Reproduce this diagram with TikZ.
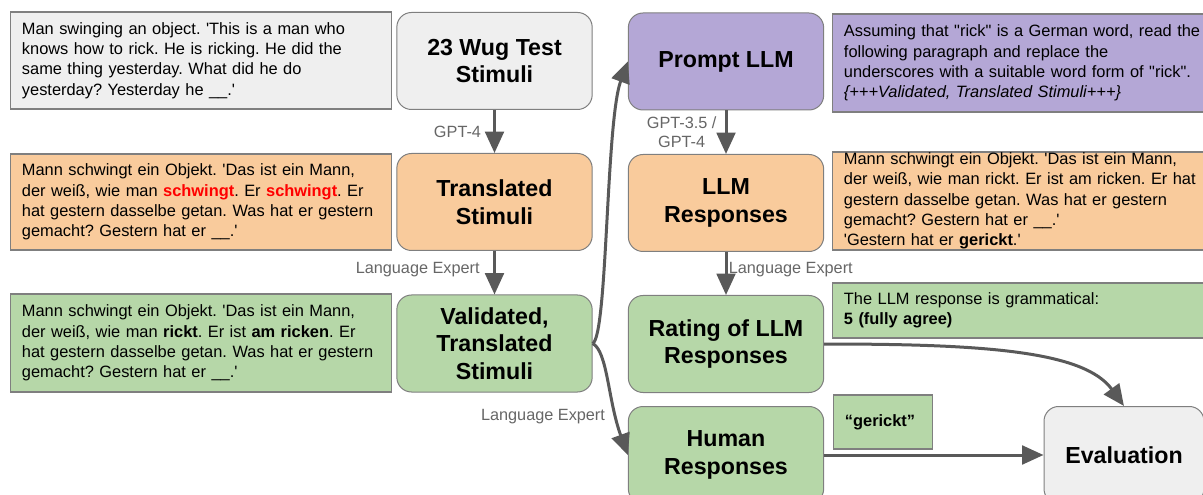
\documentclass[tikz,border=0pt]{standalone}
\usepackage{fontspec}
\setmainfont{Liberation Sans}
\usetikzlibrary{arrows.meta}
\definecolor{boxgray}{HTML}{EFEFEF}
\definecolor{boxorange}{HTML}{F9CB9C}
\definecolor{boxgreen}{HTML}{B6D7A8}
\definecolor{boxpurple}{HTML}{B4A7D6}
\definecolor{edgegray}{HTML}{7F7F7F}
\definecolor{arrowgray}{HTML}{595959}
\definecolor{labelgray}{HTML}{666666}
\definecolor{hired}{HTML}{FF0000}
\newcommand{\apos}{\textquotesingle}
\newcommand{\dq}{\textquotedbl}
\frenchspacing

\tikzset{
  textbox/.style={draw=edgegray, line width=0.9pt, anchor=west, align=left,
    inner xsep=8.5pt, inner ysep=0pt, font=\fontsize{12.3}{15.2}\selectfont},
  stagebox/.style={draw=edgegray, line width=0.75pt, rounded corners=11pt,
    minimum width=146.5pt, minimum height=72.75pt, align=center, inner sep=0pt,
    font=\fontsize{17.4}{20.8}\selectfont\bfseries},
  flow/.style={draw=arrowgray, line width=2.25pt, -{Triangle[length=16pt, width=14pt]}},
  lbl/.style={text=labelgray, inner sep=0pt, align=center, font=\fontsize{12.2}{14.5}\selectfont}
}

\begin{document}
\begin{tikzpicture}[x=0.75pt, y=-0.75pt]

  \useasboundingbox (0, 0) rectangle (1203, 495);
  \clip (0, 0) rectangle (1203, 495);

  % example texts on the left
  \node[textbox, fill=boxgray, text width=268.5pt, minimum height=72.75pt] (stimtext) at (10, 60.5)
    {Man swinging an object. \apos This is a man who\\knows how to rick. He is ricking. He did the\\same thing yesterday. What did he do\\yesterday? Yesterday he \_\_.\apos};
  \node[textbox, fill=boxorange, text width=268.5pt, minimum height=72pt] (transtext) at (10, 202)
    {Mann schwingt ein Objekt. \apos Das ist ein Mann,\\der weiß, wie man \textcolor{hired}{\bfseries schwingt}. Er \textcolor{hired}{\bfseries schwingt}. Er\\hat gestern dasselbe getan. Was hat er gestern\\gemacht? Gestern hat er \_\_.\apos};
  \node[textbox, fill=boxgreen, text width=268.5pt, minimum height=73.5pt] (validtext) at (10, 343)
    {Mann schwingt ein Objekt. \apos Das ist ein Mann,\\der weiß, wie man \textbf{rickt}. Er ist \textbf{am ricken}. Er\\hat gestern dasselbe getan. Was hat er gestern\\gemacht? Gestern hat er \_\_.\apos};

  % stages
  \node[stagebox, fill=boxgray] (wug) at (494.5, 61) {23 Wug Test\\Stimuli};
  \node[stagebox, fill=boxorange] (trans) at (494.5, 202) {Translated\\Stimuli};
  \node[stagebox, fill=boxgreen] (valid) at (494.5, 343.5) {Validated,\\Translated\\Stimuli};
  \node[stagebox, fill=boxpurple] (prompt) at (726, 61.5) {Prompt LLM};
  \node[stagebox, fill=boxorange] (llm) at (726, 203) {LLM\\Responses};
  \node[stagebox, fill=boxgreen] (rating) at (726, 344) {Rating of LLM\\Responses};
  \node[stagebox, fill=boxgreen] (human) at (726, 455) {Human\\Responses};
  \node[stagebox, fill=boxgray, minimum width=120pt] (eval) at (1124, 455) {Evaluation};

  % example texts on the right
  \node[textbox, fill=boxpurple, text width=290pt, minimum height=73.5pt] (prompttext) at (832, 63)
    {Assuming that \dq rick\dq{} is a German word, read the\\following paragraph and replace the\\underscores with a suitable word form of \dq rick\dq.\\\textit{\{+++Validated, Translated Stimuli+++\}}};
  \node[textbox, fill=boxorange, text width=290pt, minimum height=73.5pt] (llmtext) at (832, 201)
    {Mann schwingt ein Objekt. \apos Das ist ein Mann,\\der weiß, wie man rickt. Er ist am ricken. Er hat\\gestern dasselbe getan. Was hat er gestern\\gemacht? Gestern hat er \_\_.\apos\\\apos Gestern hat er \textbf{gerickt}.\apos};
  \node[textbox, fill=boxgreen, text width=290pt, minimum height=41.25pt] (ratetext) at (832, 310.5)
    {The LLM response is grammatical:\\\textbf{5 (fully agree)}};
  \node[textbox, fill=boxgreen, text width=57.25pt, minimum height=40.5pt] (humantext) at (833, 422)
    {\textbf{“gerickt”}};

  % connectors
  \draw[flow] (wug) -- node[lbl, left=9pt] {GPT-4} (trans);
  \draw[flow] (trans) -- node[lbl, left=10pt, yshift=2pt] {Language Expert} (valid);
  \draw[flow] (prompt) -- node[lbl, left=6pt] {GPT-3.5 /\\GPT-4} (llm);
  \draw[flow] (llm) -- node[lbl, right=1pt, yshift=3pt] {Language Expert} (rating);
  \draw[flow] (valid.east) .. controls +(15, -8) and +(-22, 60) .. (prompt.west);
  \draw[flow] (valid.east) .. controls +(15, 8) and +(-20, -55) .. (human.west);
  \node[lbl] (lexpert) at (543, 417) {Language Expert};
  \draw[flow] (rating.east) .. controls +(160, 0) and +(-40, -55) .. (eval.north);
  \draw[flow] (human) -- (eval);

\end{tikzpicture}
\end{document}
